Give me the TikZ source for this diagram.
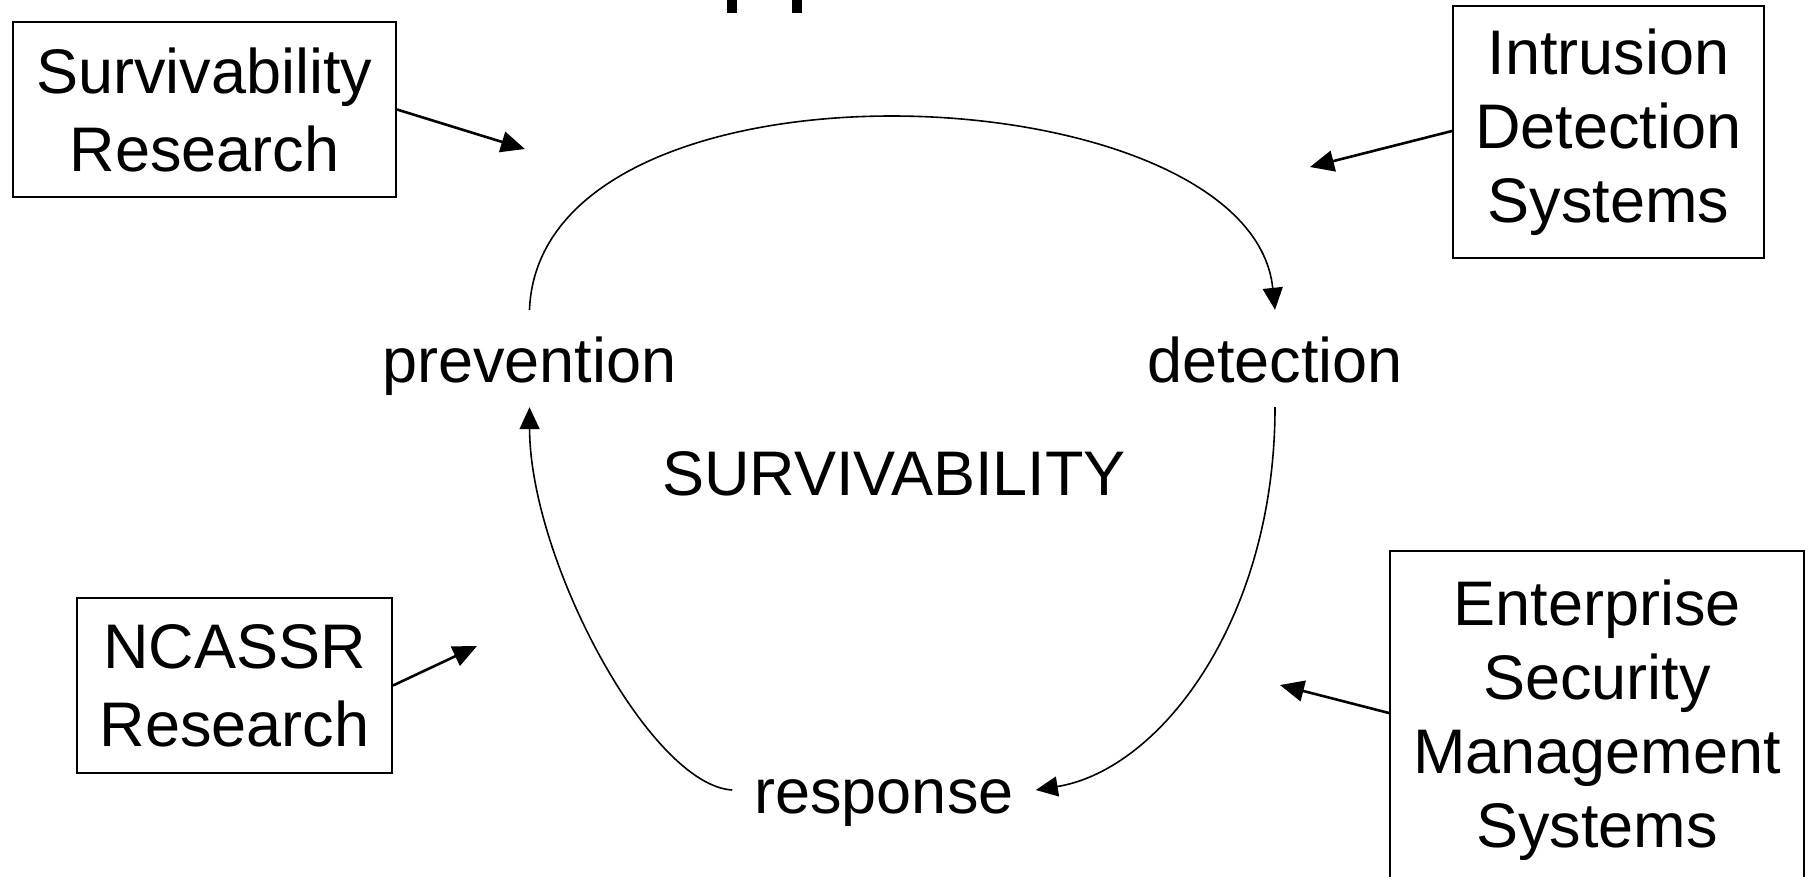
\documentclass[tikz,border=0pt]{standalone}
\usepackage{fontspec}
\setmainfont{Liberation Sans}
\usetikzlibrary{arrows.meta}
\begin{document}
\begin{tikzpicture}[x=1pt,y=-1pt,
  bigfont/.style={font=\fontsize{63}{74}\selectfont},
  widefont/.style={font=\fontsize{63}{78}\selectfont},
  srcbox/.style={draw, line width=2pt, align=center, inner sep=0pt},
  vlabel/.style={bigfont, inner sep=0pt, text height=72pt, text depth=25pt, anchor=base},
  rlabel/.style={bigfont, inner xsep=22pt, inner ysep=0pt, text height=46pt, text depth=0pt, anchor=base},
  feed/.style={line width=2.6pt, -{Triangle[length=24pt,width=21pt]}},
  cycle/.style={line width=1.6pt, -{Triangle[length=22pt,width=20pt]}}]
\useasboundingbox (0,0) rectangle (1808,876);
\clip (0,0) rectangle (1808,876);
% clipped title descenders
\fill (727,0) rectangle (737,12.5);
\fill (792,0) rectangle (802,12.5);
% boxes
\node[srcbox, widefont, minimum width=383pt, minimum height=175pt] (sr) at (204.5,109.5) {Survivability\\Research};
\node[srcbox, bigfont, minimum width=311pt, minimum height=252pt] (ids) at (1608.5,132) {Intrusion\\Detection\\Systems};
\node[srcbox, widefont, minimum width=315pt, minimum height=175pt] (nc) at (234.5,685.5) {NCASSR\\Research};
\node[srcbox, bigfont, minimum width=414pt, minimum height=339pt] (esm) at (1597,720.5) {Enterprise\\Security\\Management\\Systems};
% cycle labels
\node[vlabel] (prev) at (529.5,382) {prevention};
\node[vlabel] (det) at (1275,382) {detection};
\node[rlabel] (resp) at (884,813) {response};
\node[bigfont, inner sep=0pt, anchor=base] (surv) at (894,495) {SURVIVABILITY};
% free ends
\coordinate (srT) at (525,149);
\coordinate (idsT) at (1310,167);
\coordinate (ncT) at (477,646);
\coordinate (esmT) at (1280,685);
% feed arrows
\draw[feed] (sr.east) -- (srT);
\draw[feed] ([yshift=1pt]ids.west) -- (idsT);
\draw[feed] (nc.east) -- (ncT);
\draw[feed] ([yshift=7.5pt]esm.west) -- (esmT);
% cycle
\draw[cycle] (prev.north) .. controls (540,40) and (1250,70) .. (det.north);
\draw[cycle] (det.south) .. controls (1275,620) and (1160,770) .. (resp.east);
\draw[cycle] (resp.west) .. controls (650,785) and (530,560) .. (prev.south);
\end{tikzpicture}
\end{document}
